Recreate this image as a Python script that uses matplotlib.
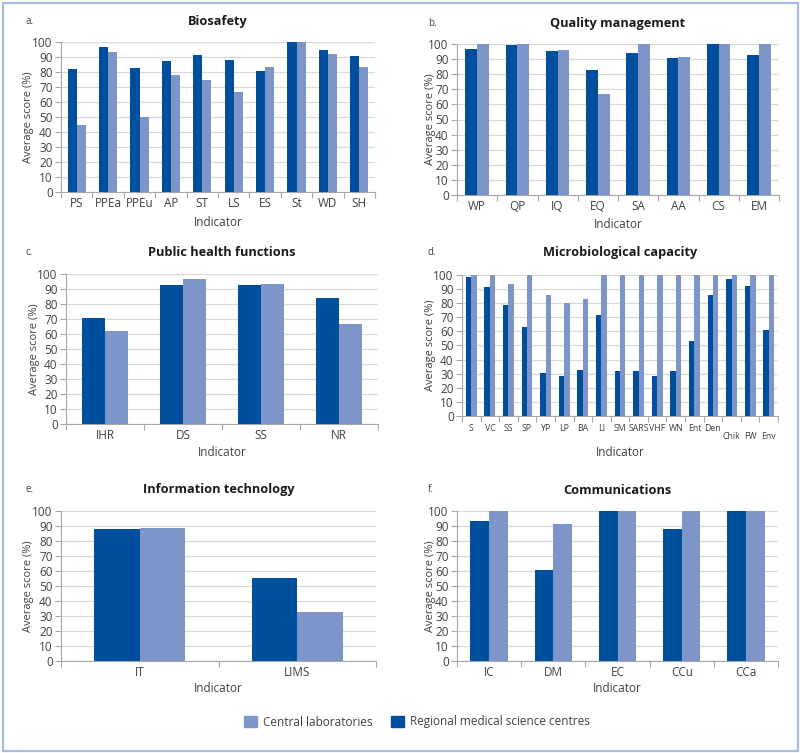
import matplotlib
matplotlib.use("Agg")
import matplotlib.pyplot as plt
import numpy as np
from matplotlib.patches import Patch, Rectangle

plt.rcParams['font.family'] = ['Open Sans', 'DejaVu Sans']

DARK = '#004f9c'
LIGHT = '#7d95c9'
GRID = '#d9d9d9'
SPINE = '#a6a6a6'
TXT = '#404040'

# a. Biosafety
bio_cats = ['PS', 'PPEa', 'PPEu', 'AP', 'ST', 'LS', 'ES', 'St', 'WD', 'SH']
bio_regional = [82, 96.5, 83, 87.5, 91.5, 88, 80.5, 100, 94.5, 91]
bio_central = [44.5, 93.5, 50, 78, 74.5, 66.7, 83.3, 100, 92, 83.3]

# b. Quality management
qm_cats = ['WP', 'QP', 'IQ', 'EQ', 'SA', 'AA', 'CS', 'EM']
qm_regional = [96.8, 99.2, 95.4, 82.5, 94.3, 91, 100, 92.7]
qm_central = [100, 100, 96, 66.7, 100, 91.5, 100, 100]

# c. Public health functions
ph_cats = ['IHR', 'DS', 'SS', 'NR']
ph_regional = [70.7, 92.5, 92.5, 83.7]
ph_central = [62.3, 97, 93.2, 66.7]

# d. Microbiological capacity
mb_cats = ['S', 'VC', 'SS', 'SP', 'YP', 'LP', 'BA', 'LI', 'SM', 'SARS', 'VHF',
           'WN', 'Ent', 'Den', 'Chik', 'FW', 'Env']
mb_regional = [98.6, 91.3, 78.5, 62.9, 30.5, 28.6, 32.4, 71.6, 31.7, 31.7, 28.1,
               31.7, 53.4, 86, 97.2, 92, 60.8]
mb_central = [100, 100, 93.4, 100, 86, 80, 83.2, 100, 100, 100, 100,
              100, 100, 100, 100, 100, 100]

# e. Information technology
it_cats = ['IT', 'LIMS']
it_regional = [87.8, 55.6]
it_central = [88.8, 32.8]

# f. Communications
cm_cats = ['IC', 'DM', 'EC', 'CCu', 'CCa']
cm_regional = [93.6, 60.7, 100, 87.8, 100]
cm_central = [100, 91.6, 100, 100, 100]

W, H = 800, 753
fig = plt.figure(figsize=(8, 7.53), dpi=100)

# outer frame
fig.patches.append(Rectangle((2.5 / W, 2.5 / H), 1 - 5 / W, 1 - 5 / H, transform=fig.transFigure,
                             fill=False, edgecolor='#a9bde0', linewidth=1.6))


def px_axes(l, t, r, b):
    return fig.add_axes([l / W, 1 - b / H, (r - l) / W, (b - t) / H])


def panel(box, cats, reg, cen, title, letter, tick_fs=8.5, tick_pad=3.5, title_y=None, xlab_y=None, ylab_x=None):
    ax = px_axes(*box)
    l, t, r, b = box
    x = np.arange(len(cats))
    w = 0.29
    ax.bar(x - w / 2, reg, w, color=DARK, zorder=3)
    ax.bar(x + w / 2, cen, w, color=LIGHT, zorder=3)
    ax.set_xlim(-0.5, len(cats) - 0.5)
    ax.set_ylim(0, 100)
    ax.set_yticks(range(0, 101, 10))
    ax.yaxis.grid(True, color=GRID, linewidth=0.9, zorder=0)
    ax.set_xticks(x)
    ax.set_xticklabels(cats)
    ax.set_xticks(np.arange(-0.5, len(cats), 1), minor=True)
    ax.tick_params(axis='x', which='major', length=0, labelsize=tick_fs, colors=TXT, pad=tick_pad)
    ax.tick_params(axis='x', which='minor', length=4, color=SPINE, width=0.8)
    ax.tick_params(axis='y', length=4, color=SPINE, width=0.8, labelsize=8.5, colors=TXT, pad=2)
    for s in ['top', 'right']:
        ax.spines[s].set_visible(False)
    for s in ['left', 'bottom']:
        ax.spines[s].set_color(SPINE)
        ax.spines[s].set_linewidth(0.8)
    cx = (l + r) / 2
    fig.text(cx / W, 1 - title_y / H, title, ha='center', va='center', fontsize=9.2,
             fontweight='bold', color='#1a1a1a')
    lx = 25 if l < 400 else 428
    fig.text(lx / W, 1 - title_y / H, letter, ha='left', va='center', fontsize=7, color=TXT)
    fig.text(cx / W, 1 - xlab_y / H, 'Indicator', ha='center', va='center', fontsize=8.5, color=TXT)
    fig.text(ylab_x / W, 1 - (t + b) / 2 / H, 'Average score (%)', ha='center', va='center',
             rotation=90, fontsize=8, color=TXT)
    return ax


panel((61, 42, 375, 192), bio_cats, bio_regional, bio_central, 'Biosafety', 'a.',
      title_y=21, xlab_y=223, ylab_x=29)
panel((457, 44, 779, 195), qm_cats, qm_regional, qm_central, 'Quality management', 'b.',
      title_y=23, xlab_y=225, ylab_x=430)
panel((66, 274, 378, 424), ph_cats, ph_regional, ph_central, 'Public health functions', 'c.',
      title_y=253, xlab_y=452, ylab_x=34)
axd = panel((462, 275, 778, 416), mb_cats, mb_regional, mb_central, 'Microbiological capacity', 'd.',
            tick_fs=6.3, tick_pad=6, title_y=253, xlab_y=452, ylab_x=431)
for lab in axd.get_xticklabels():
    if lab.get_text() in ('Chik', 'FW', 'Env'):
        lab.set_y(-0.055)
panel((61, 511, 376, 661), it_cats, it_regional, it_central, 'Information technology', 'e.',
      title_y=490, xlab_y=688, ylab_x=29)
panel((457, 511, 778, 661), cm_cats, cm_regional, cm_central, 'Communications', 'f.',
      title_y=490, xlab_y=688, ylab_x=430)

handles = [Patch(color=LIGHT, label='Central laboratories'),
           Patch(color=DARK, label='Regional medical science centres')]
fig.legend(handles=handles, loc='center', bbox_to_anchor=(417 / W, 1 - 722 / H), ncol=2,
           frameon=False, fontsize=8.5, handlelength=1.1, handleheight=1.1,
           columnspacing=1.6, handletextpad=0.5, labelcolor=TXT)

fig.savefig('out.png', dpi=100)
